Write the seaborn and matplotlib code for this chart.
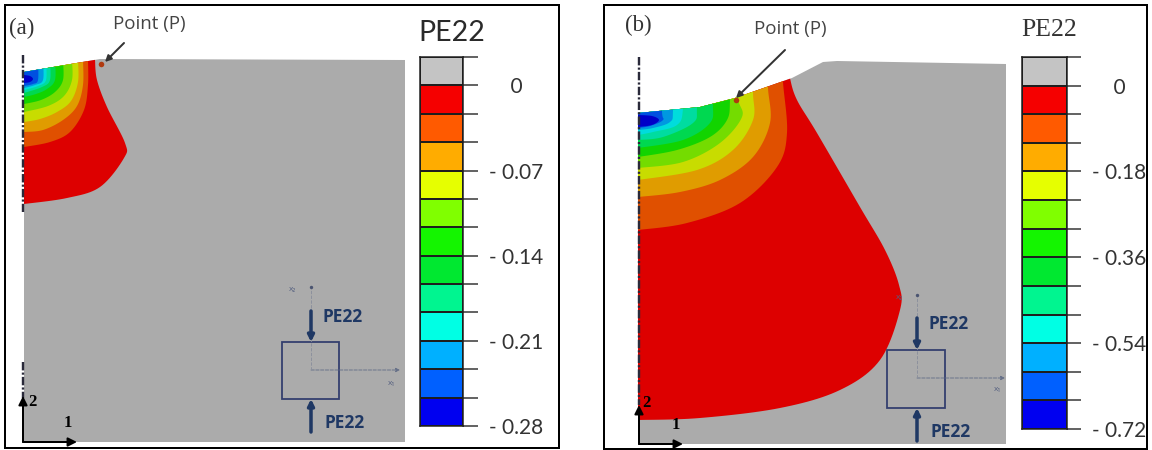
import numpy as np
import matplotlib
matplotlib.use("Agg")
import matplotlib.pyplot as plt
from matplotlib.colors import ListedColormap
from matplotlib.patches import Polygon, Rectangle
import seaborn as sns

sns.set_theme(style="white")
W, H = 1152, 450
PX = 0.72

# ---- legend data
legend_colors = ["#c4c4c4", "#f50000", "#ff5a00", "#ffac00", "#e6ff00", "#80ff00", "#14f500",
                 "#00e830", "#00f590", "#00ffe4", "#00b0ff", "#0060ff", "#0000f0"]
contour_colors = ["#dd0000", "#e05000", "#e09c00", "#c8dc00", "#74dc00", "#12d400",
                  "#00d850", "#00dca0", "#00dcdc", "#0098e0", "#0050e0", "#0000c8"]
labels_a = ["", "    0", "", "", "- 0.07", "", "", "- 0.14", "", "", "- 0.21", "", "", "- 0.28"]
labels_b = ["", "    0", "", "", "- 0.18", "", "", "- 0.36", "", "", "- 0.54", "", "", "- 0.72"]

# ---- panel (a) outlines, pixel units of the picture
body_a = [(24, 72), (100, 59), (405, 60), (405, 442), (24, 442)]
arcs_a = [
    [(95, 60), (97, 80), (107, 107), (125, 143), (124, 158), (100, 187), (67, 198), (24, 204)],
    [(88, 60), (88, 85), (84, 110), (70, 132), (50, 142), (24, 147)],
    [(83, 60), (83, 85), (77, 106), (63, 120), (43, 130), (24, 132)],
    [(78, 60), (78, 82), (71, 101), (57, 112), (40, 119), (24, 122)],
    [(72, 60), (72, 80), (64, 96), (48, 106), (24, 112)],
    [(63, 60), (63, 80), (55, 92), (41, 100), (24, 104)],
    [(55, 60), (55, 80), (47, 89), (36, 94), (24, 97)],
    [(50, 60), (50, 80), (42, 87), (24, 93)],
    [(46, 60), (46, 80), (38, 86), (24, 90)],
    [(43, 60), (43, 80), (35, 85), (24, 88)],
    [(38, 60), (38, 80), (33, 84), (24, 86)],
    [(24, 75), (30, 76), (33, 79), (30, 82), (24, 83)],
]
# ---- panel (b) outlines
body_b = [(638, 113), (700, 107), (735, 98), (792, 78), (823, 62), (837, 61), (1006, 64), (1006, 444), (638, 444)]
arcs_b = [
    [(788, 60), (790, 78), (797, 100), (817, 133), (860, 207), (885, 250), (899, 285), (900, 310),
     (880, 360), (840, 390), (780, 408), (700, 418), (638, 420)],
    [(783, 60), (783, 82), (787, 133), (777, 167), (740, 203), (687, 223), (638, 230)],
    [(768, 60), (768, 88), (770, 123), (753, 157), (720, 180), (680, 192), (638, 197)],
    [(753, 60), (753, 93), (753, 120), (733, 150), (697, 170), (638, 180)],
    [(738, 60), (738, 98), (742, 117), (720, 143), (683, 162), (638, 168)],
    [(730, 60), (730, 100), (727, 120), (710, 137), (677, 150), (638, 157)],
    [(713, 60), (713, 103), (710, 123), (683, 140), (638, 148)],
    [(697, 60), (697, 107), (693, 123), (663, 137), (638, 140)],
    [(683, 60), (683, 108), (677, 125), (653, 132), (638, 135)],
    [(673, 60), (673, 110), (670, 122), (653, 128), (638, 130)],
    [(662, 60), (662, 111), (663, 120), (650, 126), (638, 128)],
    [(638, 115), (652, 116), (659, 120), (652, 125), (638, 127)],
]


def smooth(points, n=12):
    p = np.asarray(points, float)
    p = np.vstack([p[0], p, p[-1]])
    out = [p[1]]
    for i in range(1, len(p) - 2):
        a, b, c, d = p[i - 1], p[i], p[i + 1], p[i + 2]
        for t in np.linspace(0, 1, n + 1)[1:]:
            out.append(0.5 * (2 * b + (c - a) * t + (2 * a - 5 * b + 4 * c - d) * t ** 2
                              + (3 * b - a - 3 * c + d) * t ** 3))
    return np.array(out)


fig = plt.figure(figsize=(W / 100, H / 100), dpi=100, facecolor="white")
ax = fig.add_axes([0, 0, 1, 1])
ax.set_xlim(0, W)
ax.set_ylim(H, 0)
ax.axis("off")

SANS = "Open Sans"
NAVY = "#1f3864"
BOX = "#333f6e"


def panel(frame, body, arcs, left, tag, tag_xy, point_xy, arrow, dot):
    x0, y0, x1, y1 = frame
    ax.add_patch(Rectangle((x0, y0), x1 - x0, y1 - y0, fc="white", ec="black", lw=2 * PX, zorder=1))
    grey = Polygon(body, closed=True, fc="#ababab", ec="none", zorder=2)
    ax.add_patch(grey)
    for arc, col in zip(arcs, contour_colors):
        s = smooth(arc)
        if arc[0][1] <= 60:
            s = np.vstack([s, [(left, s[-1][1]), (left, 40), (s[0][0], 40)]])
        p = Polygon(s, closed=True, fc=col, ec="none", zorder=3)
        ax.add_patch(p)
        p.set_clip_path(grey)
    ax.text(*tag_xy, tag, family="Liberation Serif", fontsize=16.5, color="#333333", ha="left", va="center", zorder=6)
    ax.text(*point_xy, "Point (P)", family=SANS, fontsize=13.5, color="#444444", ha="center", va="center", zorder=6)
    ax.annotate("", xy=arrow[1], xytext=arrow[0], zorder=6,
                arrowprops=dict(arrowstyle="-|>", color="#333333", lw=2 * PX, mutation_scale=9, shrinkA=0, shrinkB=0))
    ax.scatter(*dot, s=16, color="#b03a10", zorder=5, lw=0)


def axes_marks(ox, oy, top, right, dash_spans, lab2, lab1):
    for a, b in dash_spans:
        ax.plot([ox, ox], [a, b], color="#2a2a3a", lw=2.4 * PX, ls=(0, (3.5, 0.9, 0.9, 0.9)), zorder=5)
    ax.annotate("", xy=(ox, top), xytext=(ox, oy), zorder=6,
                arrowprops=dict(arrowstyle="-|>", color="black", lw=2 * PX, mutation_scale=13, shrinkA=0, shrinkB=0))
    ax.annotate("", xy=(right, oy), xytext=(ox, oy), zorder=6,
                arrowprops=dict(arrowstyle="-|>", color="black", lw=2 * PX, mutation_scale=13, shrinkA=0, shrinkB=0))
    for xy, t in ((lab2, "2"), (lab1, "1")):
        ax.text(*xy, t, family="Liberation Serif", weight="bold", fontsize=12, color="black",
                ha="center", va="center", zorder=6)


def element(x0, y0, x1, y1, ax_x, ax_y, top_from, bot_from, end_x, end_y, t1, t2, x1lab, x2lab):
    ax.add_patch(Rectangle((x0, y0), x1 - x0, y1 - y0, fc="none", ec=BOX, lw=1.8 * PX, zorder=5))
    for a, b in ((top_from, y0), (bot_from, y1)):
        ax.annotate("", xy=(ax_x, b), xytext=(ax_x, a), zorder=6,
                    arrowprops=dict(arrowstyle="-|>", color=NAVY, lw=3.5 * PX, mutation_scale=9, shrinkA=0, shrinkB=0))
    ax.annotate("", xy=(end_x, ax_y), xytext=(ax_x, ax_y), zorder=5,
                arrowprops=dict(arrowstyle="-|>", color="#667088", lw=0.9 * PX, ls="--", mutation_scale=6, shrinkA=0, shrinkB=0))
    ax.plot([ax_x, ax_x], [ax_y, end_y], color="#8a8f9c", lw=0.9 * PX, ls="--", zorder=5)
    ax.scatter([ax_x], [end_y], s=6, color="#4a5470", zorder=5, lw=0)
    for xy in (t1, t2):
        ax.text(*xy, "PE22", family=SANS, weight="bold", fontsize=12.5, color=NAVY, ha="left", va="center", zorder=6)
    ax.text(*x1lab, "x₁", family=SANS, fontsize=6, color="#556080", ha="center", va="center", zorder=6)
    ax.text(*x2lab, "x₂", family=SANS, fontsize=6, color="#556080", ha="center", va="center", zorder=6)


def legend(x0, x1, y0, y1, tick_end, labels):
    c = fig.add_axes([x0 / W, 1 - y1 / H, (x1 - x0) / W, (y1 - y0) / H])
    vals = np.arange(len(legend_colors)).reshape(-1, 1)
    sns.heatmap(vals, cmap=ListedColormap(legend_colors), cbar=False, ax=c,
                linewidths=1.5 * PX, linecolor="#1e1e1e", xticklabels=False)
    for s in c.spines.values():
        s.set_visible(True)
        s.set_color("#1e1e1e")
        s.set_linewidth(1.5 * PX)
    c.set_yticks(np.arange(len(labels)))
    c.set_yticklabels(labels, rotation=0, family="Lato", fontsize=15, color="#333333")
    c.tick_params(axis="y", left=False, right=True, labelleft=False, labelright=True,
                  length=(tick_end - x1) * PX, width=1.5 * PX, color="#333333", pad=11 * PX)
    c.tick_params(axis="x", bottom=False)
    c.set_xlabel("")
    c.set_ylabel("")


panel((5, 5, 559, 448), body_a, arcs_a, 24, "(a)", (9, 28), (149, 24), ((124, 43), (105, 62)), (101, 64))
panel((604, 5, 1147, 449), body_b, arcs_b, 638, "(b)", (625, 25), (790, 29), ((785, 50), (736, 98)), (736, 100))

axes_marks(23, 442, 396, 77, [(55, 212), (362, 398)], (32, 402), (68, 423))
axes_marks(639, 444, 405, 683, [(57, 405)], (646, 403), (676, 425))

element(282, 342, 339, 399, 311, 370, 311, 432, 400, 287, (322, 317), (324, 423), (391, 383), (292, 290))
element(887, 350, 945, 408, 917, 378, 318, 441, 1005, 295, (928, 324), (930, 432), (997, 390), (899, 297))

legend(420, 463, 57, 426, 478, labels_a)
legend(1022, 1067, 57, 429, 1081, labels_b)

ax.text(418, 33, "PE22", family="Lato", fontsize=20.5, color="#2a2a2a", ha="left", va="center")
ax.text(1021, 30, "PE22", family="Liberation Serif", fontsize=18.5, color="#333333", ha="left", va="center")

fig.savefig("out.png", dpi=100, facecolor="white")
